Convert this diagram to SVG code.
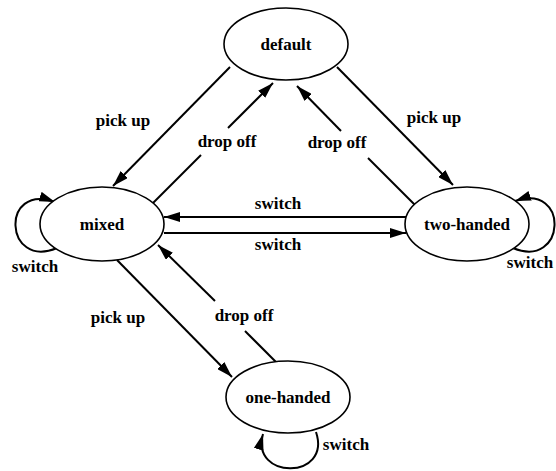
<svg xmlns="http://www.w3.org/2000/svg" width="556" height="471" viewBox="0 0 556 471">
  <style>
    .node ellipse { fill: #ffffff; stroke: #000000; stroke-width: 1.6; }
    text { font-family: "Liberation Serif", "Times New Roman", serif; font-weight: bold; font-size: 17px; fill: #000000; text-anchor: middle; }
    .edge { fill: none; stroke: #000000; stroke-width: 2; }
    .arrow { marker-end: url(#head); }
  </style>
  <defs>
    <marker id="head" markerUnits="userSpaceOnUse" markerWidth="16" markerHeight="10" refX="16" refY="5" orient="auto" viewBox="0 0 16 10">
      <path d="M0,0 L16,5 L0,10 z" fill="#000000"/>
    </marker>
  </defs>
  <rect width="556" height="471" fill="#ffffff"/>

  <!-- transitions -->
  <g id="edges">
    <!-- default -> mixed -->
    <line class="edge arrow" x1="230" y1="67" x2="113" y2="186"/>
    <text class="label" x="123" y="126">pick up</text>
    <!-- mixed -> default (broken around its label) -->
    <line class="edge" x1="152" y1="204" x2="201" y2="155"/>
    <line class="edge arrow" x1="228" y1="128" x2="273" y2="83"/>
    <text class="label" x="227" y="147">drop off</text>
    <!-- default -> two-handed -->
    <line class="edge arrow" x1="337" y1="67" x2="453" y2="185"/>
    <text class="label" x="434" y="123">pick up</text>
    <!-- two-handed -> default -->
    <line class="edge" x1="415" y1="205" x2="368" y2="158"/>
    <line class="edge arrow" x1="341" y1="131" x2="297" y2="86"/>
    <text class="label" x="337" y="148">drop off</text>
    <!-- two-handed -> mixed -->
    <line class="edge arrow" x1="406" y1="217" x2="164" y2="217"/>
    <text class="label" x="278" y="209">switch</text>
    <!-- mixed -> two-handed -->
    <line class="edge arrow" x1="164" y1="233" x2="406" y2="233"/>
    <text class="label" x="278" y="250">switch</text>
    <!-- mixed -> one-handed -->
    <line class="edge arrow" x1="117" y1="260" x2="232" y2="377"/>
    <text class="label" x="118" y="323">pick up</text>
    <!-- one-handed -> mixed -->
    <line class="edge" x1="276" y1="362" x2="245" y2="331"/>
    <line class="edge arrow" x1="215" y1="301" x2="158" y2="245"/>
    <text class="label" x="244" y="321">drop off</text>
    <!-- self loops -->
    <path class="edge arrow" d="M57,248 C4,270 0,182 55,202"/>
    <text class="label" x="35" y="272">switch</text>
    <path class="edge arrow" d="M513,248 C566,270 570,182 515,201"/>
    <text class="label" x="530" y="268">switch</text>
    <path class="edge arrow" d="M316,432 C332,480 250,480 263,434"/>
    <text class="label" x="346" y="450">switch</text>
  </g>

  <!-- states -->
  <g id="default" class="node">
    <ellipse cx="286" cy="44" rx="62" ry="36"/>
    <text x="286" y="50">default</text>
  </g>
  <g id="mixed" class="node">
    <ellipse cx="102" cy="224" rx="62" ry="37"/>
    <text x="102" y="230">mixed</text>
  </g>
  <g id="two-handed" class="node">
    <ellipse cx="467" cy="224" rx="62" ry="37"/>
    <text x="467" y="230">two-handed</text>
  </g>
  <g id="one-handed" class="node">
    <ellipse cx="288" cy="397" rx="62" ry="36"/>
    <text x="288" y="403">one-handed</text>
  </g>
</svg>
